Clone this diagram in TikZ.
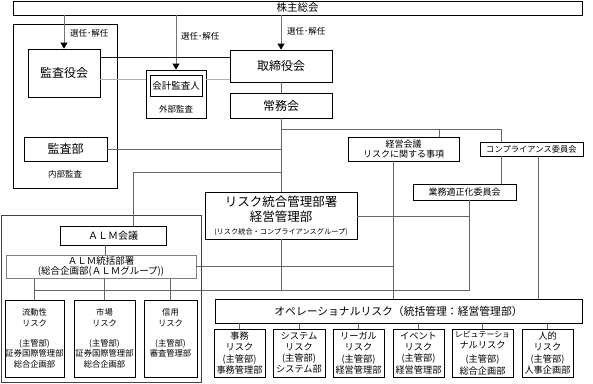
\documentclass[tikz,border=0pt]{standalone}
\usepackage{fontspec}
\setmainfont{Noto Sans CJK JP}
\usetikzlibrary{arrows.meta}
\newcommand\myfz[2]{\fontsize{#1pt}{#2pt}\selectfont}
\begin{document}
\begin{tikzpicture}[x=1pt,y=-1pt,
 bx/.style={draw=black,line width=0.8pt,fill=white,inner sep=0pt,align=center,rectangle},
 conn/.style={draw=black!60,line width=0.8pt},
 darkconn/.style={draw=black!90,line width=0.8pt},
 lightconn/.style={draw=black!30,line width=1pt},
 arr/.style={draw=black!55,line width=0.8pt,-{Triangle[width=7pt,length=6pt,color=black]}},
 lbl/.style={inner sep=0pt,font=\myfz{8.5}{10}},
 alms/.style={bx,minimum height=77pt,font=\myfz{8.3}{10.8}},
 opes/.style={bx,minimum height=48pt,font=\myfz{9.2}{11.2}}]
\useasboundingbox (0,0) rectangle (593,383);
% top
\node[bx,minimum width=569pt,minimum height=14pt,font=\myfz{10.5}{12}] (kabu) at (297.5,8) {株主総会};
% audit
\node[bx,minimum width=104pt,minimum height=164pt] (auditbox) at (65,106) {};
\node[bx,minimum width=72pt,minimum height=48pt,font=\myfz{12}{14}] (kansayaku) at (64,73) {監査役会};
\node[bx,minimum width=60pt,minimum height=48pt] (kaikeiOuter) at (176,94) {};
\node[bx,minimum width=52pt,minimum height=21pt,font=\myfz{9.5}{11}] (kaikei) at (176,85.5) {会計監査人};
\node[lbl] (gaibu) at (176,109) {外部監査};
\node[bx,minimum width=102pt,minimum height=32pt,font=\myfz{12}{14}] (torishimari) at (281,66) {取締役会};
\node[bx,minimum width=102pt,minimum height=25pt,font=\myfz{12}{14}] (jomu) at (281,105.5) {常務会};
\node[bx,minimum width=83pt,minimum height=24pt,font=\myfz{12}{14}] (kansabu) at (65.5,149) {監査部};
\node[lbl] (naibu) at (65,174) {内部監査};
% committees
\node[bx,minimum width=111pt,minimum height=24pt,font=\myfz{9}{10.5}] (keiei) at (403.5,149) {経営会議\\リスクに関する事項};
\node[bx,minimum width=103pt,minimum height=14pt,font=\myfz{8.3}{10}] (comp) at (531.5,149) {コンプライアンス委員会};
\node[bx,minimum width=103pt,minimum height=16pt,font=\myfz{9}{10}] (gyomu) at (464.5,192) {業務適正化委員会};
\node[bx,minimum width=152pt,minimum height=47pt,font=\myfz{12.5}{15}] (risk) at (281,215.5) {リスク統合管理部署\\経営管理部\\[-2pt]\myfz{7.2}{10}(リスク統合・コンプライアンスグループ)};
% ALM
\node[bx,draw=black!75,minimum width=200pt,minimum height=167pt] (almbox) at (101,298.5) {};
\node[bx,minimum width=106pt,minimum height=19pt,font=\myfz{10}{12}] (almkaigi) at (113,235.5) {ＡＬＭ会議};
\node[bx,draw=black!50,minimum width=190pt,minimum height=23pt,font=\myfz{9.5}{10.5}] (almtokatsu) at (101,266.5) {ＡＬＭ統括部署\\(総合企画部(ＡＬＭグループ))};
\node[alms,minimum width=59pt] (ryudo) at (34.5,338.5) {流動性\\リスク\\[9pt](主管部)\\証券国際管理部\\総合企画部};
\node[alms,minimum width=61pt] (shijo) at (104.5,338.5) {市場\\リスク\\[9pt](主管部)\\証券国際管理部\\総合企画部};
\node[alms,minimum width=53pt] (shinyo) at (170.5,338.5) {信用\\リスク\\[9pt](主管部)\\審査管理部\\\phantom{総}};
% operational
\node[bx,minimum width=367pt,minimum height=24pt,font=\myfz{10.8}{12}] (ope) at (398.5,311) {オペレーショナルリスク（統括管理：経営管理部）};
\node[opes,minimum width=51pt] (o1) at (239.5,353) {事務\\リスク\\(主管部)\\事務管理部};
\node[opes,minimum width=52pt] (o2) at (299,353) {システム\\リスク\\(主管部)\\システム部};
\node[opes,minimum width=51pt] (o3) at (358.5,353) {リーガル\\リスク\\(主管部)\\経営管理部};
\node[opes,minimum width=51pt] (o4) at (418.5,353) {イベント\\リスク\\(主管部)\\経営管理部};
\node[opes,minimum width=61pt] (o5) at (482.5,353) {\myfz{7.9}{9.6}レピュテーショ\\ナルリスク\\[3pt]\myfz{9.2}{11.2}(主管部)\\総合企画部};
\node[opes,minimum width=51pt] (o6) at (547.5,353) {人的\\リスク\\(主管部)\\人事企画部};
% labels
\node[lbl,anchor=west] (l1) at (70,33) {選任･解任};
\node[lbl,anchor=west] (l2) at (181,36) {選任･解任};
\node[lbl,anchor=west] (l3) at (287,31) {選任･解任};
% arrows
\draw[arr] (kansayaku.north |- kabu.south) -- (kansayaku.north);
\draw[arr] (kaikeiOuter.north |- kabu.south) -- (kaikeiOuter.north);
\draw[arr] (torishimari.north |- kabu.south) -- (torishimari.north);
% audit lines
\draw[darkconn] (kansayaku.east |- 0,57) -- (torishimari.west |- 0,57);
\draw[lightconn] (kansayaku.east |- 0,79) -- (kaikeiOuter.west |- 0,79);
\draw[lightconn] (kaikeiOuter.east |- 0,79) -- (torishimari.west |- 0,79);
\draw[conn] (kansabu.east) -- (kansabu.east -| 281,0);
% main spine
\draw[conn] (torishimari.south) -- (jomu.north);
\draw[conn] (jomu.south) -- (risk.north);
\draw[conn] (risk.south) -- (281,290) coordinate (J290);
\draw[conn] (ryudo.north |- J290) -- (469,290) coordinate (G290) -- (G290 |- gyomu.south);
\draw[conn] (281,129) coordinate (J129) -- (501,129) coordinate (C129) -- (C129 |- comp.north);
\draw[conn] (439,129) coordinate (K129) -- (K129 |- keiei.north);
\draw[conn] (C129 |- comp.south) -- (C129 |- gyomu.north);
\draw[conn] (538,0 |- comp.south) -- (538,0 |- ope.north);
\draw[conn] (393,0 |- keiei.south) -- (393,0 |- ope.north);
\draw[conn] (risk.east |- 0,216) -- (469,216);
\draw[conn] (almtokatsu.east |- 0,266) -- (393,266);
\draw[conn] (281,172) coordinate (J172) -- (133,172) coordinate (A172) -- (A172 |- almkaigi.north);
\draw[conn] (almkaigi.south -| 105,0) -- (almtokatsu.north -| 105,0);
\foreach \n in {ryudo,shijo,shinyo} \draw[conn] (\n.north |- almtokatsu.south) -- (\n.north);
\foreach \n in {o1,o2,o3,o4,o5,o6} \draw[conn] (\n.north |- ope.south) -- (\n.north);
\end{tikzpicture}
\end{document}
